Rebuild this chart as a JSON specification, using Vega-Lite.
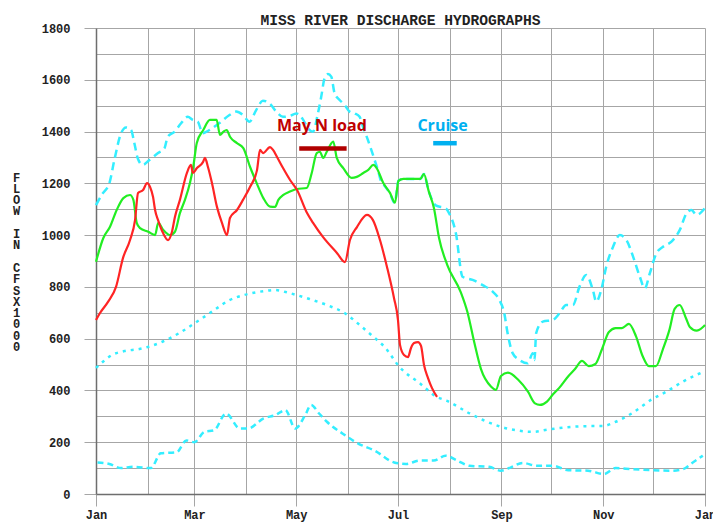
{
 "$schema": "https://vega.github.io/schema/vega-lite/v6.json",
 "width": 609, "height": 466,
 "autosize": {"type": "none"},
 "padding": {"left": 96, "top": 28, "right": 8, "bottom": 28},
 "background": "white",
 "config": {"view": {"stroke": null}},
 "title": {"text": "MISS RIVER DISCHARGE HYDROGRAPHS", "font": "Liberation Mono", "fontSize": 14.6, "fontWeight": "bold", "color": "#222222", "anchor": "middle", "offset": -6},
 "datasets": {
  "flows": [
   {"s":"max","day":0,"flow":1116},{"s":"max","day":4,"flow":1161},{"s":"max","day":8,"flow":1200},{"s":"max","day":11,"flow":1290},{"s":"max","day":15,"flow":1393},{"s":"max","day":18,"flow":1416},{"s":"max","day":21,"flow":1406},{"s":"max","day":23,"flow":1355},{"s":"max","day":25,"flow":1297},{"s":"max","day":28,"flow":1271},{"s":"max","day":32,"flow":1290},{"s":"max","day":37,"flow":1316},{"s":"max","day":41,"flow":1335},{"s":"max","day":43,"flow":1380},{"s":"max","day":47,"flow":1399},{"s":"max","day":51,"flow":1432},{"s":"max","day":55,"flow":1457},{"s":"max","day":58,"flow":1445},{"s":"max","day":61,"flow":1438},{"s":"max","day":64,"flow":1393},{"s":"max","day":66,"flow":1399},{"s":"max","day":68,"flow":1406},{"s":"max","day":74,"flow":1433},{"s":"max","day":80,"flow":1464},{"s":"max","day":84,"flow":1477},{"s":"max","day":88,"flow":1464},{"s":"max","day":92,"flow":1438},{"s":"max","day":96,"flow":1483},{"s":"max","day":100,"flow":1519},{"s":"max","day":104,"flow":1509},{"s":"max","day":108,"flow":1477},{"s":"max","day":112,"flow":1457},{"s":"max","day":116,"flow":1460},{"s":"max","day":120,"flow":1470},{"s":"max","day":124,"flow":1447},{"s":"max","day":127,"flow":1413},{"s":"max","day":130,"flow":1399},{"s":"max","day":133,"flow":1470},{"s":"max","day":135,"flow":1535},{"s":"max","day":137,"flow":1606},{"s":"max","day":139,"flow":1622},{"s":"max","day":141,"flow":1612},{"s":"max","day":143,"flow":1548},{"s":"max","day":146,"flow":1522},{"s":"max","day":149,"flow":1503},{"s":"max","day":152,"flow":1477},{"s":"max","day":155,"flow":1470},{"s":"max","day":158,"flow":1457},{"s":"max","day":160,"flow":1419},{"s":"max","day":163,"flow":1367},{"s":"max","day":165,"flow":1329},{"s":"max","day":167,"flow":1290},{"s":"max","day":169,"flow":1251},{"s":"max","day":171,"flow":1205},{"s":"max","day":173,"flow":1190},{"s":"max","day":176,"flow":1163},{"s":"max","day":179,"flow":1125},{"s":"max","day":181.3,"flow":1210},{"s":"max","day":184.3,"flow":1217},{"s":"max","day":194.4,"flow":1217},{"s":"max","day":196.5,"flow":1236},{"s":"max","day":199.4,"flow":1170},{"s":"max","day":203.6,"flow":1115},{"s":"max","day":209.7,"flow":1103},{"s":"max","day":211.7,"flow":1084},{"s":"max","day":215.7,"flow":1007},{"s":"max","day":219.7,"flow":839},{"s":"max","day":225.7,"flow":827},{"s":"max","day":231.7,"flow":807},{"s":"max","day":237.7,"flow":782},{"s":"max","day":241.7,"flow":750},{"s":"max","day":244.7,"flow":698},{"s":"max","day":246.7,"flow":621},{"s":"max","day":249.7,"flow":544},{"s":"max","day":253.7,"flow":518},{"s":"max","day":258.8,"flow":505},{"s":"max","day":261.8,"flow":544},{"s":"max","day":262.8,"flow":518},{"s":"max","day":263.8,"flow":621},{"s":"max","day":267.8,"flow":666},{"s":"max","day":273.8,"flow":672},{"s":"max","day":277.8,"flow":698},{"s":"max","day":281.8,"flow":730},{"s":"max","day":285.8,"flow":730},{"s":"max","day":289.8,"flow":801},{"s":"max","day":293.8,"flow":846},{"s":"max","day":297.8,"flow":788},{"s":"max","day":299.8,"flow":743},{"s":"max","day":302.8,"flow":788},{"s":"max","day":305.8,"flow":878},{"s":"max","day":309.9,"flow":955},{"s":"max","day":313.9,"flow":1000},{"s":"max","day":317.9,"flow":981},{"s":"max","day":321.9,"flow":917},{"s":"max","day":325.9,"flow":840},{"s":"max","day":328.9,"flow":794},{"s":"max","day":331.9,"flow":852},{"s":"max","day":335.9,"flow":930},{"s":"max","day":339.9,"flow":955},{"s":"max","day":344.9,"flow":975},{"s":"max","day":349.9,"flow":1020},{"s":"max","day":353.9,"flow":1084},{"s":"max","day":356.9,"flow":1097},{"s":"max","day":359.9,"flow":1078},{"s":"max","day":365,"flow":1105},
   {"s":"mean","day":0,"flow":487},{"s":"mean","day":4,"flow":510},{"s":"mean","day":9.6,"flow":537},{"s":"mean","day":17,"flow":552},{"s":"mean","day":26,"flow":560},{"s":"mean","day":38,"flow":583},{"s":"mean","day":50,"flow":622},{"s":"mean","day":62,"flow":672},{"s":"mean","day":71,"flow":711},{"s":"mean","day":80,"flow":749},{"s":"mean","day":89,"flow":769},{"s":"mean","day":101,"flow":784},{"s":"mean","day":107,"flow":788},{"s":"mean","day":116,"flow":776},{"s":"mean","day":128,"flow":753},{"s":"mean","day":140,"flow":726},{"s":"mean","day":149,"flow":699},{"s":"mean","day":158,"flow":653},{"s":"mean","day":167,"flow":603},{"s":"mean","day":173,"flow":568},{"s":"mean","day":182,"flow":490},{"s":"mean","day":194,"flow":428},{"s":"mean","day":204,"flow":376},{"s":"mean","day":210,"flow":361},{"s":"mean","day":224,"flow":311},{"s":"mean","day":233,"flow":283},{"s":"mean","day":243,"flow":259},{"s":"mean","day":252,"flow":246},{"s":"mean","day":262,"flow":240},{"s":"mean","day":271,"flow":249},{"s":"mean","day":281,"flow":257},{"s":"mean","day":293,"flow":262},{"s":"mean","day":304,"flow":263},{"s":"mean","day":311.5,"flow":279},{"s":"mean","day":321,"flow":311},{"s":"mean","day":333,"flow":365},{"s":"mean","day":342,"flow":396},{"s":"mean","day":352,"flow":435},{"s":"mean","day":365,"flow":475},
   {"s":"min","day":0.9,"flow":122},{"s":"min","day":8,"flow":116},{"s":"min","day":15.1,"flow":100},{"s":"min","day":22.2,"flow":105},{"s":"min","day":32.9,"flow":100},{"s":"min","day":38.8,"flow":157},{"s":"min","day":48.3,"flow":161},{"s":"min","day":54.2,"flow":207},{"s":"min","day":59,"flow":200},{"s":"min","day":64.9,"flow":240},{"s":"min","day":70.8,"flow":246},{"s":"min","day":77.9,"flow":311},{"s":"min","day":86.2,"flow":253},{"s":"min","day":91,"flow":253},{"s":"min","day":100.5,"flow":292},{"s":"min","day":107.6,"flow":305},{"s":"min","day":113.5,"flow":324},{"s":"min","day":119.4,"flow":253},{"s":"min","day":125.4,"flow":305},{"s":"min","day":128.9,"flow":344},{"s":"min","day":133.7,"flow":311},{"s":"min","day":138.4,"flow":279},{"s":"min","day":147.9,"flow":233},{"s":"min","day":157.4,"flow":194},{"s":"min","day":166.9,"flow":168},{"s":"min","day":178.7,"flow":122},{"s":"min","day":185.8,"flow":116},{"s":"min","day":194.1,"flow":129},{"s":"min","day":202.4,"flow":129},{"s":"min","day":209.5,"flow":148},{"s":"min","day":216.6,"flow":129},{"s":"min","day":223.8,"flow":109},{"s":"min","day":235.6,"flow":105},{"s":"min","day":242.7,"flow":90},{"s":"min","day":248.7,"flow":103},{"s":"min","day":255.8,"flow":120},{"s":"min","day":264.1,"flow":109},{"s":"min","day":273.6,"flow":109},{"s":"min","day":283,"flow":92},{"s":"min","day":294.9,"flow":90},{"s":"min","day":304.4,"flow":77},{"s":"min","day":311.5,"flow":100},{"s":"min","day":321,"flow":96},{"s":"min","day":332.8,"flow":92},{"s":"min","day":344.7,"flow":90},{"s":"min","day":351.8,"flow":96},{"s":"min","day":357.7,"flow":122},{"s":"min","day":363.7,"flow":148},
   {"s":"prev","day":0,"flow":897},{"s":"prev","day":4.4,"flow":989},{"s":"prev","day":8.4,"flow":1032},{"s":"prev","day":12.4,"flow":1097},{"s":"prev","day":16.4,"flow":1143},{"s":"prev","day":20.4,"flow":1155},{"s":"prev","day":22.4,"flow":1136},{"s":"prev","day":24.4,"flow":1047},{"s":"prev","day":26.4,"flow":1027},{"s":"prev","day":31.3,"flow":1013},{"s":"prev","day":35.4,"flow":1000},{"s":"prev","day":37.3,"flow":1047},{"s":"prev","day":40.3,"flow":1020},{"s":"prev","day":44.3,"flow":1000},{"s":"prev","day":47.3,"flow":1013},{"s":"prev","day":50.3,"flow":1085},{"s":"prev","day":53.3,"flow":1136},{"s":"prev","day":56.3,"flow":1201},{"s":"prev","day":58.3,"flow":1264},{"s":"prev","day":60.4,"flow":1356},{"s":"prev","day":64.3,"flow":1406},{"s":"prev","day":68.3,"flow":1445},{"s":"prev","day":72.3,"flow":1445},{"s":"prev","day":74.3,"flow":1387},{"s":"prev","day":76.3,"flow":1399},{"s":"prev","day":78.3,"flow":1406},{"s":"prev","day":80.3,"flow":1380},{"s":"prev","day":84.3,"flow":1356},{"s":"prev","day":88.3,"flow":1336},{"s":"prev","day":92.3,"flow":1264},{"s":"prev","day":96.3,"flow":1201},{"s":"prev","day":100.3,"flow":1143},{"s":"prev","day":104.3,"flow":1110},{"s":"prev","day":107.3,"flow":1109},{"s":"prev","day":109.3,"flow":1136},{"s":"prev","day":112.3,"flow":1155},{"s":"prev","day":116.3,"flow":1168},{"s":"prev","day":120.3,"flow":1178},{"s":"prev","day":126.3,"flow":1182},{"s":"prev","day":129.3,"flow":1240},{"s":"prev","day":132.3,"flow":1317},{"s":"prev","day":134.2,"flow":1322},{"s":"prev","day":136.2,"flow":1298},{"s":"prev","day":138.3,"flow":1322},{"s":"prev","day":142.2,"flow":1361},{"s":"prev","day":144.3,"flow":1298},{"s":"prev","day":148.2,"flow":1259},{"s":"prev","day":153.2,"flow":1221},{"s":"prev","day":156.3,"flow":1225},{"s":"prev","day":160.2,"flow":1240},{"s":"prev","day":163.2,"flow":1252},{"s":"prev","day":166.2,"flow":1271},{"s":"prev","day":168.2,"flow":1259},{"s":"prev","day":172.2,"flow":1201},{"s":"prev","day":176.2,"flow":1163},{"s":"prev","day":179.2,"flow":1125},{"s":"prev","day":181.3,"flow":1210},{"s":"prev","day":184.3,"flow":1217},{"s":"prev","day":194.4,"flow":1217},{"s":"prev","day":196.5,"flow":1236},{"s":"prev","day":199.4,"flow":1170},{"s":"prev","day":202.5,"flow":1106},{"s":"prev","day":205.6,"flow":989},{"s":"prev","day":210.5,"flow":885},{"s":"prev","day":218.6,"flow":780},{"s":"prev","day":222.6,"flow":703},{"s":"prev","day":226.7,"flow":586},{"s":"prev","day":230.7,"flow":483},{"s":"prev","day":236.7,"flow":415},{"s":"prev","day":239.7,"flow":402},{"s":"prev","day":242.7,"flow":456},{"s":"prev","day":246.9,"flow":469},{"s":"prev","day":252.9,"flow":442},{"s":"prev","day":258.9,"flow":395},{"s":"prev","day":263.1,"flow":350},{"s":"prev","day":266.1,"flow":344},{"s":"prev","day":270.3,"flow":357},{"s":"prev","day":273.9,"flow":385},{"s":"prev","day":277.5,"flow":409},{"s":"prev","day":283.2,"flow":456},{"s":"prev","day":287.1,"flow":483},{"s":"prev","day":291.3,"flow":514},{"s":"prev","day":295.3,"flow":494},{"s":"prev","day":299.3,"flow":502},{"s":"prev","day":303.3,"flow":560},{"s":"prev","day":307.4,"flow":626},{"s":"prev","day":311.5,"flow":641},{"s":"prev","day":315.2,"flow":641},{"s":"prev","day":319.4,"flow":657},{"s":"prev","day":323.6,"flow":610},{"s":"prev","day":327.6,"flow":533},{"s":"prev","day":331.4,"flow":494},{"s":"prev","day":335.6,"flow":494},{"s":"prev","day":339.8,"flow":560},{"s":"prev","day":343.8,"flow":637},{"s":"prev","day":346.8,"flow":715},{"s":"prev","day":349.8,"flow":730},{"s":"prev","day":353.8,"flow":676},{"s":"prev","day":355.9,"flow":645},{"s":"prev","day":359.9,"flow":631},{"s":"prev","day":363.8,"flow":645},{"s":"prev","day":365,"flow":653},
   {"s":"cur","day":0,"flow":672},{"s":"cur","day":2.4,"flow":699},{"s":"cur","day":7.2,"flow":742},{"s":"cur","day":12,"flow":800},{"s":"cur","day":16.2,"flow":912},{"s":"cur","day":20.4,"flow":981},{"s":"cur","day":23.4,"flow":1058},{"s":"cur","day":25.2,"flow":1163},{"s":"cur","day":28.2,"flow":1174},{"s":"cur","day":30.6,"flow":1201},{"s":"cur","day":32.4,"flow":1186},{"s":"cur","day":34.2,"flow":1147},{"s":"cur","day":35.4,"flow":1097},{"s":"cur","day":37.2,"flow":1058},{"s":"cur","day":40.2,"flow":1008},{"s":"cur","day":43.2,"flow":981},{"s":"cur","day":45.5,"flow":1012},{"s":"cur","day":47.3,"flow":1070},{"s":"cur","day":50.3,"flow":1136},{"s":"cur","day":54.5,"flow":1240},{"s":"cur","day":56.9,"flow":1271},{"s":"cur","day":58.1,"flow":1240},{"s":"cur","day":60.5,"flow":1259},{"s":"cur","day":64.1,"flow":1282},{"s":"cur","day":65.3,"flow":1298},{"s":"cur","day":67.1,"flow":1263},{"s":"cur","day":69.5,"flow":1201},{"s":"cur","day":72.5,"flow":1109},{"s":"cur","day":75.5,"flow":1047},{"s":"cur","day":78.5,"flow":1000},{"s":"cur","day":80.3,"flow":1066},{"s":"cur","day":84.5,"flow":1097},{"s":"cur","day":88.1,"flow":1136},{"s":"cur","day":92.3,"flow":1186},{"s":"cur","day":96.5,"flow":1251},{"s":"cur","day":98.3,"flow":1329},{"s":"cur","day":100.1,"flow":1317},{"s":"cur","day":104.3,"flow":1340},{"s":"cur","day":106.1,"flow":1329},{"s":"cur","day":108.5,"flow":1302},{"s":"cur","day":112.1,"flow":1259},{"s":"cur","day":116.3,"flow":1213},{"s":"cur","day":120.5,"flow":1174},{"s":"cur","day":126.5,"flow":1085},{"s":"cur","day":130.1,"flow":1047},{"s":"cur","day":136,"flow":993},{"s":"cur","day":144.4,"flow":931},{"s":"cur","day":149.2,"flow":896},{"s":"cur","day":152.2,"flow":981},{"s":"cur","day":156.4,"flow":1031},{"s":"cur","day":162.4,"flow":1078},{"s":"cur","day":166,"flow":1058},{"s":"cur","day":170.2,"flow":981},{"s":"cur","day":174.4,"flow":877},{"s":"cur","day":178.6,"flow":757},{"s":"cur","day":181,"flow":672},{"s":"cur","day":182.2,"flow":576},{"s":"cur","day":184.6,"flow":537},{"s":"cur","day":187,"flow":529},{"s":"cur","day":188.8,"flow":564},{"s":"cur","day":190.6,"flow":583},{"s":"cur","day":193,"flow":587},{"s":"cur","day":194.8,"flow":572},{"s":"cur","day":196.6,"flow":498},{"s":"cur","day":199,"flow":448},{"s":"cur","day":201.4,"flow":409},{"s":"cur","day":204.4,"flow":375}
  ],
  "notes": [
   {"kind":"nload","label":"May N load","day":135.4,"flow":1402},
   {"kind":"cruise","label":"Cruise","day":207.7,"flow":1402}
  ],
  "bars": [
   {"kind":"nload","day":121.8,"end":150.2,"flow":1335},
   {"kind":"cruise","day":202.1,"end":216.2,"flow":1355}
  ]
 },
 "encoding": {
  "x": {"field": "day", "type": "quantitative", "scale": {"domain": [0, 365], "nice": false, "zero": false},
   "axis": {"values": [0,31,59,90,120,151,181,212,243,273,304,334,365],
    "labelExpr": "datum.value==0||datum.value==365?'Jan':datum.value==59?'Mar':datum.value==120?'May':datum.value==181?'Jul':datum.value==243?'Sep':datum.value==304?'Nov':''",
    "title": null, "grid": true, "gridColor": "#a6a6a6", "gridWidth": 1,
    "domainColor": "#6e6e6e", "domainWidth": 1.5,
    "tickSize": 12, "tickColor": "#a6a6a6",
    "tickOpacity": {"condition": {"test": "indexof([0,59,120,181,243,304,365], datum.value) >= 0", "value": 1}, "value": 0},
    "labelFont": "Liberation Mono", "labelFontSize": 12, "labelFontWeight": "bold", "labelColor": "#222222",
    "labelPadding": 3, "labelFlush": false, "labelOverlap": false}},
  "y": {"field": "flow", "type": "quantitative", "scale": {"domain": [0, 1800], "nice": false, "zero": true},
   "axis": {"values": [0,100,200,300,400,500,600,700,800,900,1000,1100,1200,1300,1400,1500,1600,1700,1800],
    "format": "d", "labelExpr": "datum.value % 200 == 0 ? datum.label : ''",
    "grid": true, "gridColor": "#a6a6a6", "gridWidth": 1,
    "domainColor": "#6e6e6e", "domainWidth": 1.5,
    "tickSize": 12, "tickColor": "#a6a6a6",
    "tickOpacity": {"condition": {"test": "datum.value % 200 == 0", "value": 1}, "value": 0},
    "labelFont": "Liberation Mono", "labelFontSize": 12, "labelFontWeight": "bold", "labelColor": "#222222",
    "labelPadding": 14, "labelOverlap": false,
    "title": ["F","L","O","W","\u200b","I","N","\u200b","C","F","S","X","1","0","0","0"],
    "titleAngle": 0, "titleX": -80, "titleY": 144, "titleAlign": "center", "titleBaseline": "top",
    "titleFont": "Liberation Mono", "titleFontSize": 12, "titleFontWeight": "bold", "titleColor": "#222222", "titleLineHeight": 11.3}}
 },
 "layer": [
  {"data": {"name": "flows"}, "transform": [{"filter": "datum.s == 'min'"}],
   "mark": {"type": "line", "color": "#33eeff", "strokeWidth": 2.5, "strokeDash": [6, 4], "interpolate": "monotone"}},
  {"data": {"name": "flows"}, "transform": [{"filter": "datum.s == 'mean'"}],
   "mark": {"type": "line", "color": "#33eeff", "strokeWidth": 2.5, "strokeDash": [3, 5], "interpolate": "monotone"}},
  {"data": {"name": "flows"}, "transform": [{"filter": "datum.s == 'max'"}],
   "mark": {"type": "line", "color": "#33eeff", "strokeWidth": 2.5, "strokeDash": [8, 5], "interpolate": "monotone"}},
  {"data": {"name": "flows"}, "transform": [{"filter": "datum.s == 'prev'"}],
   "mark": {"type": "line", "color": "#22ee22", "strokeWidth": 2.2, "interpolate": "monotone"}},
  {"data": {"name": "flows"}, "transform": [{"filter": "datum.s == 'cur'"}],
   "mark": {"type": "line", "color": "#ff2424", "strokeWidth": 2.2, "interpolate": "monotone"}},
  {"data": {"name": "bars"}, "transform": [{"filter": "datum.kind == 'nload'"}],
   "mark": {"type": "rule", "color": "#b00000", "strokeWidth": 4.5},
   "encoding": {"x2": {"field": "end"}}},
  {"data": {"name": "bars"}, "transform": [{"filter": "datum.kind == 'cruise'"}],
   "mark": {"type": "rule", "color": "#00b0f0", "strokeWidth": 4.5},
   "encoding": {"x2": {"field": "end"}}},
  {"data": {"name": "notes"}, "transform": [{"filter": "datum.kind == 'nload'"}],
   "mark": {"type": "text", "color": "#c00000", "font": "Open Sans", "fontSize": 16, "fontWeight": "bold", "align": "center", "baseline": "alphabetic"},
   "encoding": {"text": {"field": "label"}}},
  {"data": {"name": "notes"}, "transform": [{"filter": "datum.kind == 'cruise'"}],
   "mark": {"type": "text", "color": "#00b0f0", "font": "Open Sans", "fontSize": 16, "fontWeight": "bold", "align": "center", "baseline": "alphabetic"},
   "encoding": {"text": {"field": "label"}}}
 ]
}
